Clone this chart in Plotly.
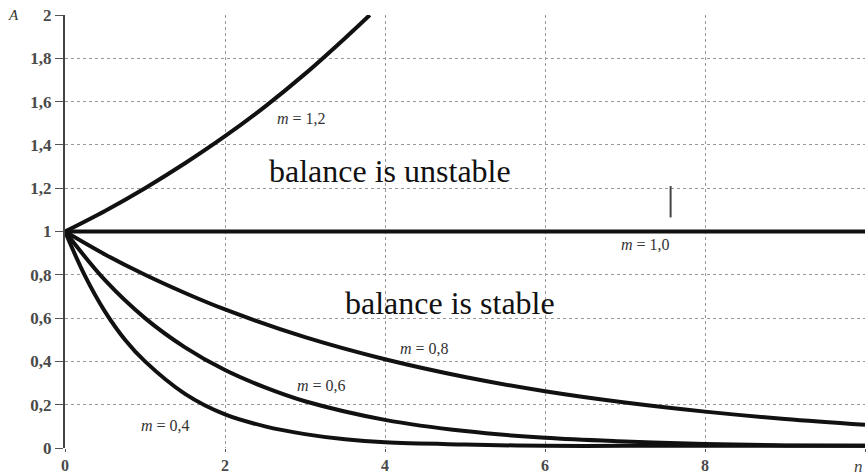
import plotly.graph_objects as go

# n values and amplitude A for each multiplier m
n_12 = [0, 0.5, 1, 1.5, 2, 2.5, 3, 3.5, 3.81]
a_12 = [1, 1.095, 1.2, 1.315, 1.44, 1.577, 1.728, 1.893, 2.0]

n_10 = [0, 10]
a_10 = [1, 1]

n_08 = [0, 0.5, 1, 1.5, 2, 3, 4, 5, 6, 7, 8, 9, 10]
a_08 = [1, 0.894, 0.8, 0.716, 0.64, 0.512, 0.41, 0.328, 0.262, 0.21, 0.168, 0.134, 0.107]

n_06 = [0, 0.5, 1, 1.5, 2, 2.5, 3, 4, 5, 6, 7, 8, 9, 10]
a_06 = [1, 0.775, 0.6, 0.465, 0.36, 0.28, 0.216, 0.13, 0.078, 0.047, 0.03, 0.018, 0.012, 0.01]

n_04 = [0, 0.25, 0.5, 0.75, 1, 1.5, 2, 2.5, 3, 3.5, 4, 5, 6, 7, 8, 9, 10]
a_04 = [1, 0.795, 0.63, 0.5, 0.4, 0.25, 0.155, 0.1, 0.064, 0.04, 0.026, 0.016, 0.01, 0.01, 0.01, 0.01, 0.01]

mark_n = [7.57, 7.57]
mark_a = [1.065, 1.21]

x_ticks = [0, 2, 4, 6, 8, 10]
x_text = ["0", "2", "4", "6", "8", ""]
y_ticks = [0, 0.2, 0.4, 0.6, 0.8, 1, 1.2, 1.4, 1.6, 1.8, 2]
y_text = ["0", "0,2", "0,4", "0,6", "0,8", "1", "1,2", "1,4", "1,6", "1,8", "2"]

curve_labels = [
    (2.95, 1.52, "<i>m</i> = 1,2"),
    (7.26, 0.94, "<i>m</i> = 1,0"),
    (4.49, 0.46, "<i>m</i> = 0,8"),
    (3.21, 0.29, "<i>m</i> = 0,6"),
    (1.25, 0.106, "<i>m</i> = 0,4"),
]
region_labels = [
    (4.06, 1.28, "balance is unstable"),
    (4.81, 0.67, "balance is stable"),
]

SERIF = "Liberation Serif, Times New Roman, DejaVu Serif, serif"

fig = go.Figure()
for xs, ys in [(n_12, a_12), (n_10, a_10), (n_08, a_08), (n_06, a_06), (n_04, a_04)]:
    fig.add_trace(go.Scatter(x=xs, y=ys, mode="lines", line=dict(color="#111", width=4, shape="spline"),
                             showlegend=False, hoverinfo="skip"))
fig.add_trace(go.Scatter(x=mark_n, y=mark_a, mode="lines", line=dict(color="#444", width=2),
                         showlegend=False, hoverinfo="skip"))

for x, y, t in curve_labels:
    fig.add_annotation(x=x, y=y, text=t, showarrow=False,
                       font=dict(family=SERIF, size=16, color="#333"))
for x, y, t in region_labels:
    fig.add_annotation(x=x, y=y, text=t, showarrow=False,
                       font=dict(family=SERIF, size=32, color="#111"))

# axis names
fig.add_annotation(xref="paper", yref="paper", x=-0.065, y=1.0, text="<i>A</i>", showarrow=False,
                   xanchor="center", yanchor="middle",
                   font=dict(family=SERIF, size=15, color="#333"))
fig.add_annotation(xref="paper", yref="paper", x=1.0, y=0, yshift=-18, text="<i>n</i>", showarrow=False,
                   xanchor="right", yanchor="middle",
                   font=dict(family=SERIF, size=17, color="#444"))

fig.update_layout(
    width=868, height=476,
    margin=dict(l=65, r=3, t=15, b=28),
    plot_bgcolor="white", paper_bgcolor="white",
    font=dict(family=SERIF, size=16, color="#444"),
)
fig.update_xaxes(range=[0, 10], tickvals=x_ticks, ticktext=x_text, automargin=False,
                 ticklabeloverflow="allow",
                 showgrid=True, gridcolor="#999", griddash="dot", gridwidth=1,
                 zeroline=False, showline=False, ticks="outside", ticklen=3, tickcolor="#555",
                 tickfont=dict(family=SERIF, size=16, color="#4a4a4a", weight="bold"))
fig.update_yaxes(range=[0, 2], tickvals=y_ticks, ticktext=y_text, automargin=False,
                 ticklabeloverflow="allow",
                 showgrid=True, gridcolor="#999", griddash="dot", gridwidth=1,
                 zeroline=False, showline=True, linecolor="#444", linewidth=2,
                 ticks="outside", ticklen=8, tickcolor="#555",
                 tickfont=dict(family=SERIF, size=17, color="#4a4a4a", weight="bold"))

# remove the default page margin so the 868x476 figure fills the window exactly
fig.write_html("out.html", config={"displayModeBar": False},
               post_script="document.body.style.margin='0';document.body.style.overflow='hidden';")
